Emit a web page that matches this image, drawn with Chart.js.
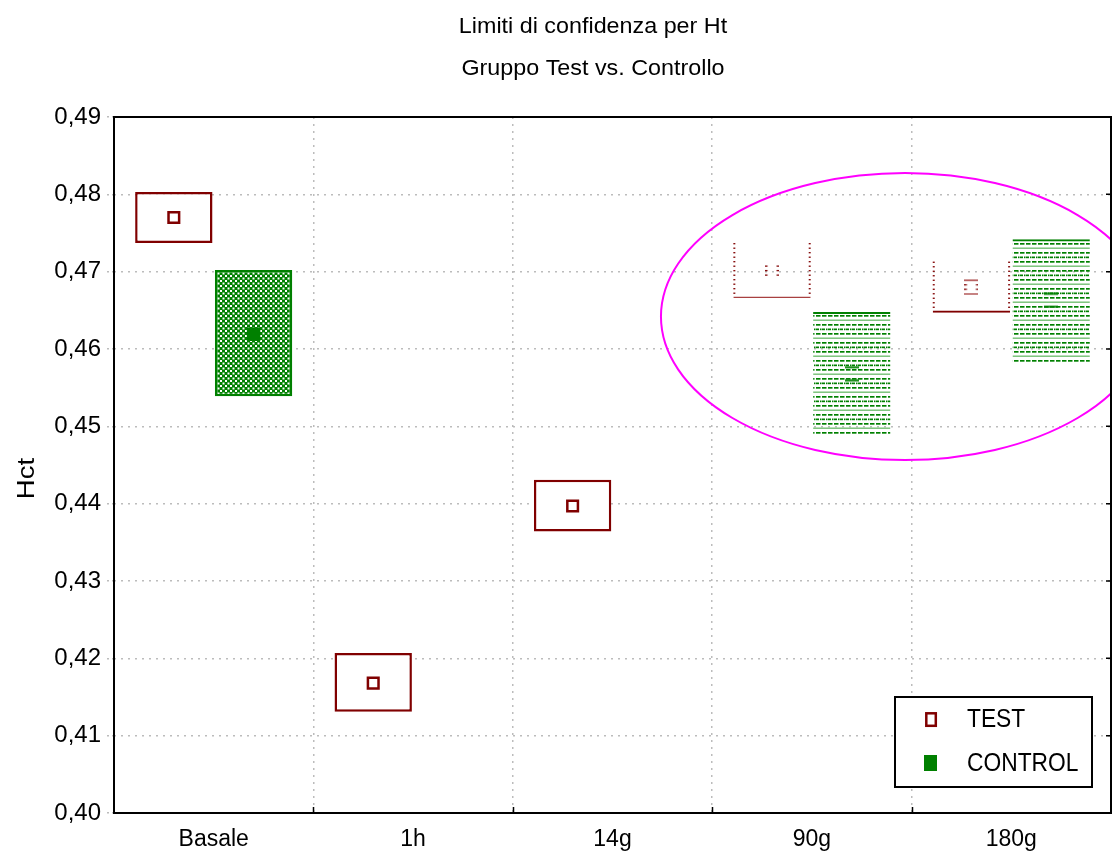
<!DOCTYPE html>
<html>
<head>
<meta charset="utf-8">
<script src="https://cdn.jsdelivr.net/npm/chart.js@4/dist/chart.umd.min.js"></script>
<style>
html, body { margin: 0; padding: 0; background: #ffffff; }
#wrap { width: 1112px; height: 857px; }
</style>
</head>
<body>
<div id="wrap"><canvas id="c" width="1112" height="857"></canvas></div>
<script>
// ---------- data ----------
const titleLines = ['Limiti di confidenza per Ht', 'Gruppo Test vs. Controllo'];
const yAxisTitle = 'Hct';
const categories = ['Basale', '1h', '14g', '90g', '180g'];
const seriesNames = ['TEST', 'CONTROL'];
const testMean  = [0.4770, 0.4168, 0.4397, 0.4701, 0.4680];
const testLow   = [0.4737, 0.4131, 0.4364, 0.4666, 0.4647];
const testHigh  = [0.4803, 0.4207, 0.4431, 0.4737, 0.4713];
const controlMean = [0.4619, null, null, 0.4568, 0.4663];
const controlLow  = [0.4539, null, null, 0.4488, 0.4583];
const controlHigh = [0.4702, null, null, 0.4648, 0.4742];
const yMin = 0.40, yMax = 0.49, yStep = 0.01;
// highlight ellipse (data units: category index / Hct)
const ellipseCenter = { x: 3.467, y: 0.4642 };
const ellipseRadius = { x: 1.224, y: 0.01856 };

// ---------- styles ----------
const DARK_RED = '#800000';
const FAINT_RED = '#a84040';
const GREEN = '#008000';
const LIGHT_GREEN = '#74bf74';
const boxStyle = ['full', 'full', 'full', 'faint', 'faint'];
const FONT = "'Liberation Sans', Arial, Helvetica, sans-serif";
const SERIES_SHIFT = 0.2; // TEST left of the category centre, CONTROL right (category units)
const AREA = { left: 114, top: 117, right: 1111, bottom: 813 };

const narrowOK = (() => {
  const g = document.createElement('canvas').getContext('2d');
  g.font = '40px monospace';
  const a = g.measureText('Basale 180g').width;
  g.font = "40px 'Liberation Sans Narrow', monospace";
  const b = g.measureText('Basale 180g').width;
  return Math.abs(a - b) > 1;
})();
const xTickFont = narrowOK
  ? { family: "'Liberation Sans Narrow', 'Liberation Sans', Arial, sans-serif", size: 27, lineHeight: 1.2 }
  : { family: FONT, size: 23, lineHeight: 1.2 };

function makeTile(w, h, draw) {
  const c = document.createElement('canvas');
  c.width = w; c.height = h;
  draw(c.getContext('2d'));
  return c;
}
const canvas = document.getElementById('c');
const mainCtx = canvas.getContext('2d');
const checker = mainCtx.createPattern(makeTile(5, 5, g => {
  g.fillStyle = GREEN; g.fillRect(0, 0, 5, 5);
  g.fillStyle = '#ffffff'; g.fillRect(0, 0, 2, 2); g.fillRect(2.5, 2.5, 2, 2);
}), 'repeat');
const hatch = mainCtx.createPattern(makeTile(6, 18, g => {
  g.fillStyle = GREEN;
  g.fillRect(0, 0, 4.5, 1.7);
  g.fillRect(0, 4.5, 3, 1.7); g.fillRect(4, 4.5, 1.5, 1.7);
  g.fillRect(0, 9, 4.5, 1.7);
  g.fillStyle = LIGHT_GREEN; g.fillRect(0, 13.5, 6, 1.4);
}), 'repeat');

const testFaintMarks = [null, null, null,
  makeTile(14, 12, g => {
    g.fillStyle = DARK_RED;
    for (const y of [0.5, 5, 9.5]) { g.fillRect(0, y, 2.5, 1.3); g.fillRect(11.5, y, 2.5, 1.3); }
  }),
  makeTile(14, 16, g => {
    g.fillStyle = FAINT_RED; g.fillRect(0, 0.5, 14, 1.4); g.fillRect(0, 14.2, 14, 1.4);
    g.fillStyle = DARK_RED;
    for (const y of [5, 9.5]) { g.fillRect(0, y, 2.5, 1.3); g.fillRect(11.5, y, 2.5, 1.3); }
  })
];
const ctrlFaintMark = makeTile(14, 16, g => {
  g.fillStyle = GREEN; g.fillRect(0, 0.5, 14, 2); g.fillRect(0, 13.5, 14, 2);
});

// ---------- plugins ----------
function drawText(ctx, str, x, y, size, align, sx, rot) {
  ctx.save();
  ctx.translate(x, y);
  if (rot) ctx.rotate(rot);
  ctx.scale(sx, 1);
  ctx.font = size + 'px ' + FONT;
  ctx.textAlign = align;
  ctx.textBaseline = 'middle';
  ctx.fillStyle = '#000000';
  ctx.fillText(str, 0, 0);
  ctx.restore();
}

const catOf = c => Math.round(c.raw.x);
const isFull = c => boxStyle[catOf(c)] === 'full';

const dottedSides = {
  id: 'dottedSides',
  afterDatasetsDraw(chart) {
    const ctx = chart.ctx;
    const meta = chart.getDatasetMeta(0);
    const ds = chart.data.datasets[0].data;
    ctx.save();
    ctx.fillStyle = DARK_RED;
    meta.data.forEach((bar, i) => {
      if (boxStyle[Math.round(ds[i].x)] !== 'faint') return;
      const p = bar.getProps(['x', 'y', 'base', 'width'], true);
      const l = p.x - p.width / 2, r = p.x + p.width / 2;
      for (let yy = p.y; yy < p.base - 2; yy += 4.5) {
        ctx.fillRect(l, yy, 2, 1.3);
        ctx.fillRect(r - 2, yy, 2, 1.3);
      }
    });
    ctx.restore();
  }
};

const frame = {
  id: 'frame',
  afterDatasetsDraw(chart) {
    const ctx = chart.ctx, ca = chart.chartArea;
    const xs = chart.scales.x, ys = chart.scales.y;
    ctx.save();
    ctx.strokeStyle = '#000000';
    ctx.lineWidth = 1.5;
    ctx.beginPath();
    for (let i = 1; i < categories.length; i++) {
      const x = Math.round(xs.getPixelForValue(i - 0.5)) + 0.5;
      ctx.moveTo(x, ca.bottom); ctx.lineTo(x, ca.bottom - 6);
    }
    ys.ticks.forEach(t => {
      const y = ys.getPixelForValue(t.value);
      ctx.moveTo(ca.right, y); ctx.lineTo(ca.right - 5, y);
    });
    ctx.stroke();
    ctx.lineWidth = 2;
    ctx.strokeRect(ca.left, ca.top, ca.right - ca.left, ca.bottom - ca.top);
    ctx.restore();
  }
};

const highlight = {
  id: 'highlight',
  afterDatasetsDraw(chart) {
    const ctx = chart.ctx;
    const xs = chart.scales.x, ys = chart.scales.y;
    const cx = xs.getPixelForValue(ellipseCenter.x);
    const cy = ys.getPixelForValue(ellipseCenter.y);
    const rx = xs.getPixelForValue(ellipseCenter.x + ellipseRadius.x) - cx;
    const ry = cy - ys.getPixelForValue(ellipseCenter.y + ellipseRadius.y);
    ctx.save();
    ctx.strokeStyle = '#ff00ff';
    ctx.lineWidth = 2;
    ctx.beginPath();
    ctx.ellipse(cx, cy, rx, ry, 0, 0, Math.PI * 2);
    ctx.stroke();
    ctx.restore();
  }
};

const texts = {
  id: 'texts',
  afterDraw(chart) {
    const ctx = chart.ctx, ca = chart.chartArea;
    drawText(ctx, titleLines[0], 593, 27, 22, 'center', 1.06);
    drawText(ctx, titleLines[1], 593, 69, 22, 'center', 1.06);
    drawText(ctx, yAxisTitle, 27, 478.5, 24, 'center', 1.15, -Math.PI / 2);
    const bx = ca.right - 216, by = ca.bottom - 116, bw = 197, bh = 90;
    ctx.save();
    ctx.fillStyle = '#ffffff';
    ctx.fillRect(bx, by, bw, bh);
    ctx.strokeStyle = '#000000';
    ctx.lineWidth = 2;
    ctx.strokeRect(bx, by, bw, bh);
    ctx.strokeStyle = DARK_RED;
    ctx.lineWidth = 2.5;
    ctx.strokeRect(bx + 31.3, by + 16.3, 9.5, 12.5);
    ctx.fillStyle = GREEN;
    ctx.fillRect(bx + 29, by + 58, 13, 16);
    ctx.restore();
    drawText(ctx, seriesNames[0], bx + 72, by + 22.5, 26.5, 'left', 0.86);
    drawText(ctx, seriesNames[1], bx + 72, by + 66.5, 26.5, 'left', 0.86);
  }
};

// ---------- chart ----------
const testBoxes = testLow.map((l, i) => ({ x: i - SERIES_SHIFT, y: [l, testHigh[i]] }));
const controlBoxes = controlLow.map((l, i) => (l == null ? null : { x: i + SERIES_SHIFT, y: [l, controlHigh[i]] })).filter(Boolean);
const testPoints = testMean.map((m, i) => ({ x: i - SERIES_SHIFT, y: m }));
const controlPoints = controlMean.map((m, i) => (m == null ? null : { x: i + SERIES_SHIFT, y: m })).filter(Boolean);

new Chart(canvas, {
  type: 'scatter',
  data: {
    datasets: [
      {
        type: 'bar',
        label: seriesNames[0],
        data: testBoxes,
        grouped: false,
        backgroundColor: c => isFull(c) ? '#ffffff' : 'rgba(0,0,0,0)',
        borderColor: c => isFull(c) ? DARK_RED : (catOf(c) === 3 ? FAINT_RED : DARK_RED),
        borderWidth: c => isFull(c) ? 2.5 : { top: 0, left: 0, right: 0, bottom: catOf(c) === 3 ? 1.3 : 2 },
        borderSkipped: false,
        barPercentage: 0.97,
        categoryPercentage: 1,
        order: 3
      },
      {
        type: 'bar',
        label: seriesNames[1],
        data: controlBoxes,
        grouped: false,
        backgroundColor: c => isFull(c) ? checker : hatch,
        borderColor: GREEN,
        borderWidth: c => isFull(c) ? 2.5 : { top: 2, left: 0, right: 0, bottom: 0 },
        borderSkipped: false,
        barPercentage: 0.97,
        categoryPercentage: 1,
        order: 3
      },
      {
        type: 'scatter',
        label: seriesNames[0] + ' media',
        data: testPoints,
        showLine: false,
        pointStyle: c => isFull(c) ? 'rect' : testFaintMarks[catOf(c)],
        pointRadius: 7.5,
        pointBorderWidth: 2.5,
        pointBorderColor: DARK_RED,
        pointBackgroundColor: '#ffffff',
        order: 1
      },
      {
        type: 'scatter',
        label: seriesNames[1] + ' media',
        data: controlPoints,
        showLine: false,
        pointStyle: c => isFull(c) ? 'rect' : ctrlFaintMark,
        pointRadius: 9.5,
        pointBorderWidth: 0,
        pointBorderColor: GREEN,
        pointBackgroundColor: GREEN,
        order: 1
      }
    ]
  },
  options: {
    responsive: false,
    animation: false,
    devicePixelRatio: 1,
    events: [],
    layout: {
      autoPadding: false,
      padding: { top: AREA.top, left: 0, right: 1112 - AREA.right, bottom: 0 }
    },
    plugins: {
      legend: { display: false },
      title: { display: false },
      tooltip: { enabled: false }
    },
    scales: {
      x: {
        type: 'linear',
        min: -0.5,
        max: categories.length - 0.5,
        offset: false,
        afterBuildTicks: s => { s.ticks = categories.map((_, i) => ({ value: i })); },
        grid: {
          offset: true,
          drawTicks: false,
          color: '#bcbcbc',
          lineWidth: 1.5,
          borderDash: [2, 5]
        },
        border: { display: false, dash: [2, 5] },
        ticks: {
          color: '#000000',
          font: xTickFont,
          padding: 13,
          maxRotation: 0,
          minRotation: 0,
          autoSkip: false,
          callback: v => categories[Math.round(v)] ?? ''
        },
        afterFit: s => { s.height = 857 - AREA.bottom; s.paddingLeft = 0; s.paddingRight = 0; }
      },
      y: {
        type: 'linear',
        min: yMin,
        max: yMax,
        offset: false,
        grid: {
          color: '#bcbcbc',
          lineWidth: 1.5,
          borderDash: [2, 5],
          tickLength: 7,
          tickColor: '#bcbcbc',
          tickBorderDash: [2, 3]
        },
        border: { display: false, dash: [2, 5] },
        ticks: {
          stepSize: yStep,
          color: '#000000',
          padding: 6,
          font: { family: FONT, size: 24 },
          callback: v => Number(v).toFixed(2).replace('.', ',')
        },
        afterFit: s => { s.width = AREA.left; }
      }
    }
  },
  plugins: [dottedSides, highlight, frame, texts]
});
</script>
</body>
</html>
